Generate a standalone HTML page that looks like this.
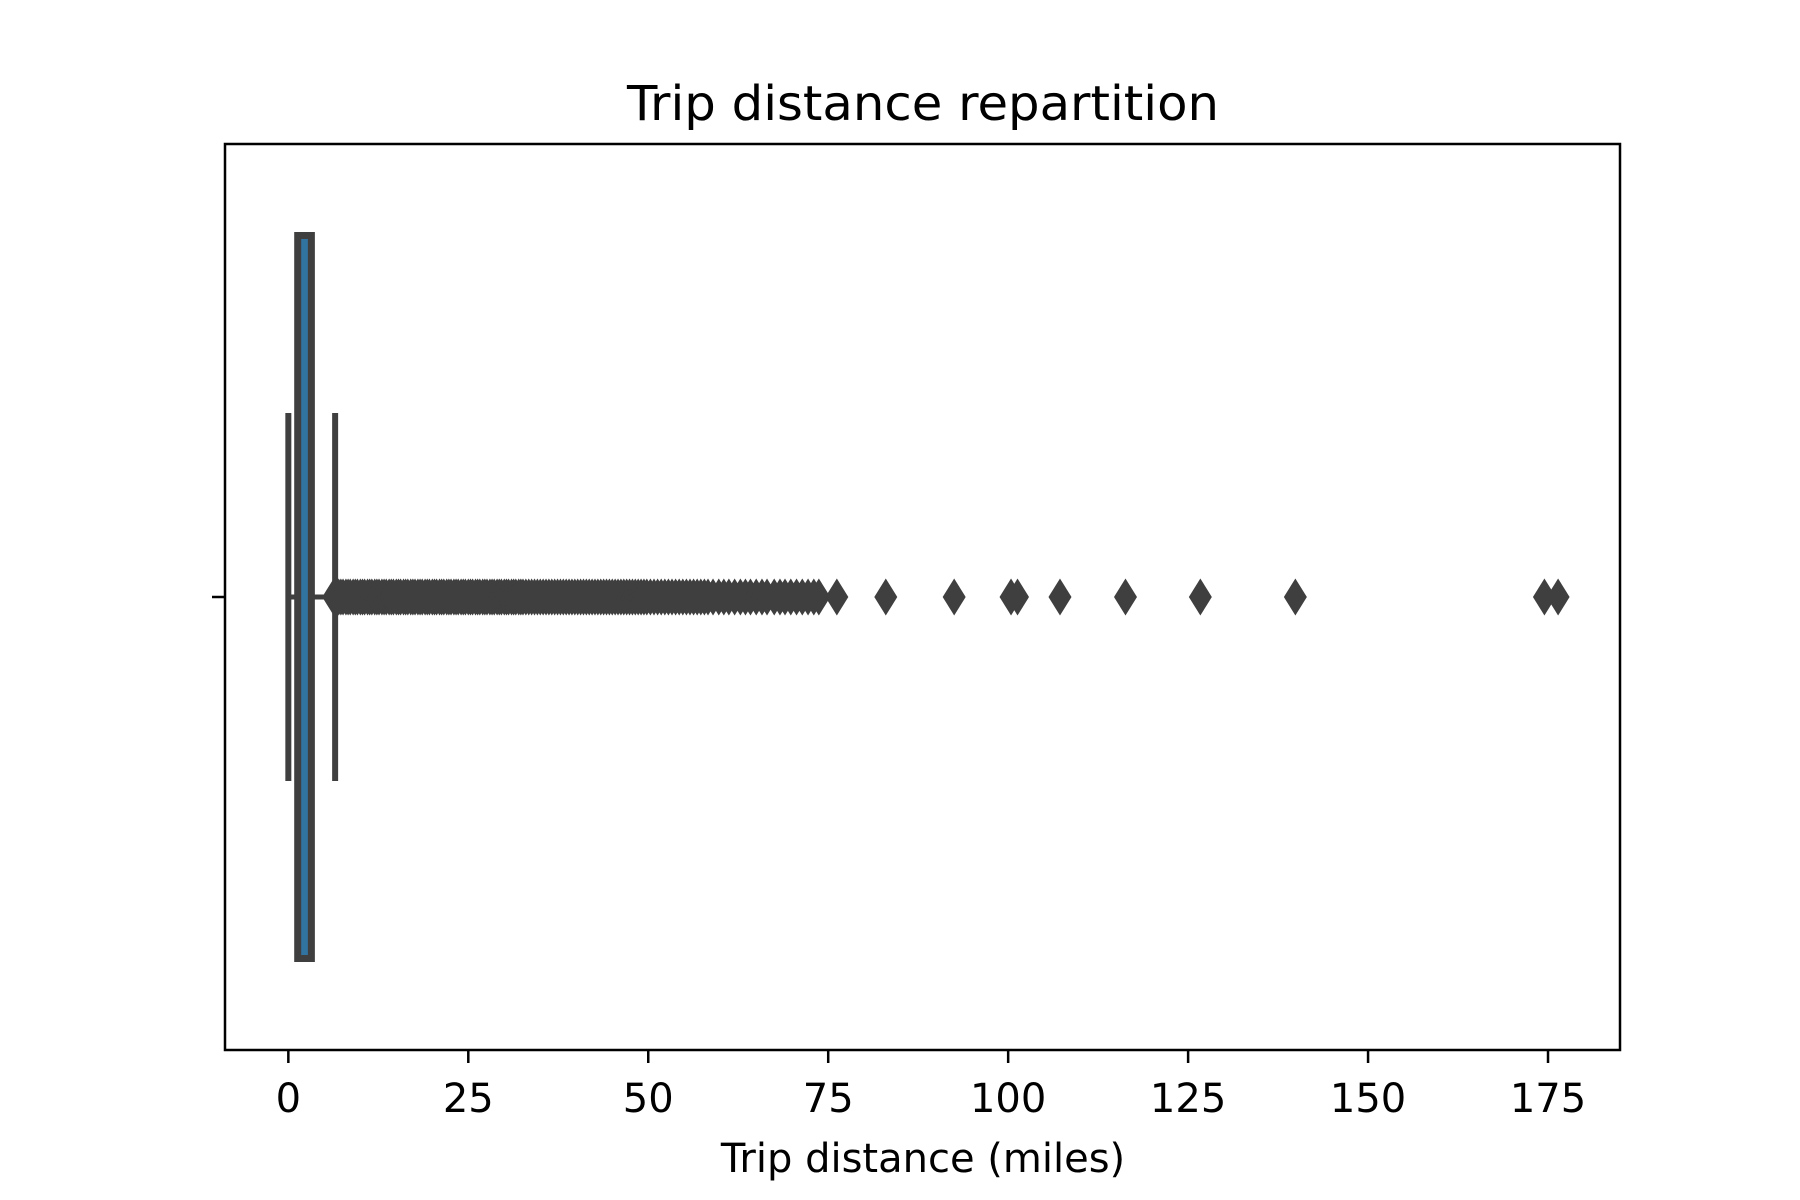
<!DOCTYPE html>
<html><head><meta charset="utf-8"><style>
html,body{margin:0;padding:0;background:#fff}
svg{display:block}
text{font-family:"DejaVu Sans","Liberation Sans",sans-serif;fill:#000}
</style></head><body>
<svg id="chart" width="1800" height="1200" viewBox="0 0 1800 1200" xmlns="http://www.w3.org/2000/svg">
<rect x="0" y="0" width="1800" height="1200" fill="#fff"/>
<g id="plot"></g>
<text x="923" y="120" font-size="48" text-anchor="middle" textLength="592" lengthAdjust="spacingAndGlyphs">Trip distance repartition</text>
<text x="923" y="1172" font-size="40" text-anchor="middle">Trip distance (miles)</text>
</svg>
<script>
const xTicks = [0, 25, 50, 75, 100, 125, 150, 175];
const boxStats = [0, 1.3, 2.2, 3.2, 6.5]; // whiskerLow, q1, median, q3, whiskerHigh
const outliers = [6.3,6.6,7,7.3,7.6,8,8.3,8.6,9,9.3,9.6,10,10.3,10.6,11,11.3,11.6,12,12.3,12.6,13,13.3,13.6,14,14.3,14.6,15,15.3,15.6,16,16.3,16.6,17,17.3,17.6,18,18.3,18.6,19,19.3,19.6,20,20.3,20.6,21,21.3,21.6,22,22.3,22.6,23,23.3,23.6,24,24.3,24.6,25,25.3,25.6,26,26.3,26.6,27,27.3,27.6,28,28.3,28.6,29,29.3,29.6,30,30.3,30.6,31,31.3,31.6,32,32.3,32.6,33,
33.4,33.8,34.2,34.6,35,35.4,35.8,36.2,36.6,37,37.4,37.8,38.2,38.6,39,39.4,39.8,40.2,40.6,41,41.4,41.8,42.2,42.6,43,43.4,43.8,44.2,44.6,45,45.4,45.8,46.2,46.6,47,47.4,47.8,48.2,48.6,49,49.4,49.8,50.3,50.8,51.3,51.8,52.3,52.8,53.3,53.8,54.3,54.8,55.3,55.8,56.3,56.8,57.3,57.8,58.3,59,59.8,60.5,61.2,62,62.8,63.5,64.2,65,65.8,66.5,67.5,68.3,69,69.8,70.6,71.4,72.2,73,73.7,
76.2,83.0,92.5,100.4,101.3,107.2,116.3,126.7,139.9,174.5,176.4];
const xDomain = [-8.8, 185.0];

const NS = "http://www.w3.org/2000/svg";
const L = 225, R = 1620, T = 144, B = 1050, CY = 597;
function xs(v){ return L + (v - xDomain[0]) / (xDomain[1] - xDomain[0]) * (R - L); }
const plot = document.getElementById('plot');
function mk(tag, attrs){ const e = document.createElementNS(NS, tag); for (const k in attrs) e.setAttribute(k, attrs[k]); plot.appendChild(e); return e; }
const dark = "#3f3f3f";

let wl = mk('line', {x1: xs(boxStats[0]), x2: xs(boxStats[4]), y1: CY, y2: CY, stroke: dark, 'stroke-width': 5});


[boxStats[0], boxStats[4]].forEach((v, i) => {
  const c = mk('line', {x1: xs(v), x2: xs(v), y1: CY - 184, y2: CY + 184, stroke: dark, 'stroke-width': 6});
  
  
});
const bx = mk('rect', {x: xs(boxStats[1]), y: 235.5, width: xs(boxStats[3]) - xs(boxStats[1]), height: 723, fill: '#3274a1', stroke: dark, 'stroke-width': 7});


const md = mk('line', {x1: xs(boxStats[2]), x2: xs(boxStats[2]), y1: 240, y2: 955, stroke: '#3274a1', 'stroke-width': 2});


outliers.forEach(v => {
  const x = xs(v);
  const p = mk('polygon', {points: `${x},${CY-18.5} ${x+11.5},${CY} ${x},${CY+18.5} ${x-11.5},${CY}`, fill: dark});
  
  
});
const fr = mk('rect', {x: L, y: T, width: R - L, height: B - T, fill: 'none', stroke: '#000', 'stroke-width': 2.5});


const yt = mk('line', {x1: L - 13, x2: L, y1: CY, y2: CY, stroke: '#000', 'stroke-width': 2.5});


xTicks.forEach(t => {
  const x = xs(t);
  const tk = mk('line', {x1: x, x2: x, y1: B, y2: B + 13, stroke: '#000', 'stroke-width': 2.5});
  
  
  const tx = mk('text', {x: x, y: 1112, 'font-size': 40, 'text-anchor': 'middle'});
  tx.textContent = String(t);
  
  
});
</script>
</body></html>
